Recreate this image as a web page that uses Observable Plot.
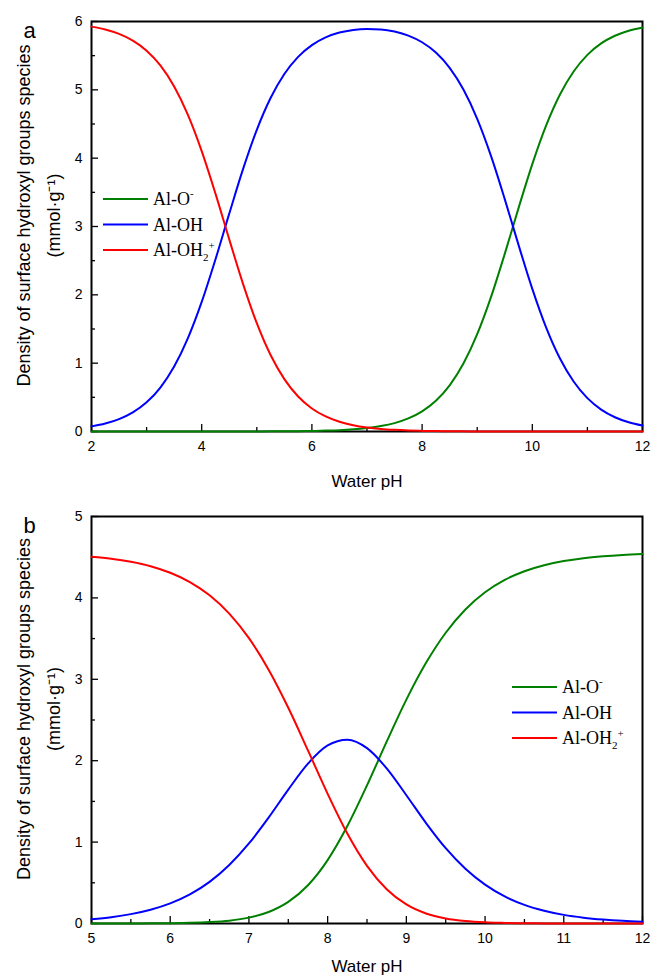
<!DOCTYPE html>
<html><head><meta charset="utf-8">
<script src="https://cdn.jsdelivr.net/npm/d3@7"></script>
<script src="https://cdn.jsdelivr.net/npm/@observablehq/plot@0.6"></script>
<style>
body{margin:0;background:#fff;}
#chart{width:653px;}
#chart svg{display:block;}
</style></head><body><div id="chart"></div>
<script>
// ---------- data ----------
const species = ["Al-O-", "Al-OH", "Al-OH2+"];
const speciesColors = ["#008000", "#0000ff", "#ff0000"];

// panel a
const phA = [2,2.25,2.5,2.75,3,3.25,3.5,3.75,4,4.25,4.5,4.75,5,5.25,5.5,5.75,6,6.25,6.5,6.75,7,7.25,7.5,7.75,8,8.25,8.5,8.75,9,9.25,9.5,9.75,10,10.25,10.5,10.75,11,11.25,11.5,11.75,12];
const alOA = [0,0,0,0,0,0,0,0,0,0,0,0.001,0.001,0.002,0.003,0.005,0.008,0.013,0.020,0.032,0.051,0.079,0.123,0.191,0.294,0.449,0.675,0.994,1.424,1.966,2.599,3.269,3.913,4.476,4.929,5.269,5.512,5.679,5.791,5.865,5.913];
const alOHA = [0.075,0.117,0.182,0.280,0.427,0.643,0.950,1.366,1.896,2.519,3.188,3.839,4.414,4.880,5.232,5.483,5.655,5.768,5.838,5.877,5.891,5.884,5.853,5.794,5.696,5.545,5.322,5.004,4.575,4.033,3.401,2.731,2.087,1.524,1.071,0.731,0.488,0.321,0.209,0.135,0.087];
const alOH2A = [5.925,5.883,5.818,5.720,5.573,5.357,5.050,4.634,4.104,3.481,2.812,2.161,1.585,1.119,0.766,0.512,0.337,0.220,0.142,0.091,0.058,0.037,0.024,0.015,0.009,0.006,0.004,0.002,0.001,0,0,0,0,0,0,0,0,0,0,0,0];
const xTicksA = [2,4,6,8,10,12];
const xMinorA = [3,5,7,9,11];
const yTicksA = [0,1,2,3,4,5,6];
const yMinorA = [0.5,1.5,2.5,3.5,4.5,5.5];

// panel b
const phB = [5,5.25,5.5,5.75,6,6.25,6.5,6.75,7,7.25,7.5,7.75,8,8.25,8.5,8.75,9,9.25,9.5,9.75,10,10.25,10.5,10.75,11,11.25,11.5,11.75,12];
const alOB = [0,0,0.001,0.002,0.004,0.008,0.017,0.035,0.072,0.141,0.265,0.470,0.779,1.197,1.697,2.234,2.750,3.202,3.572,3.858,4.069,4.221,4.328,4.402,4.453,4.488,4.511,4.527,4.538];
const alOHB = [0.053,0.078,0.115,0.169,0.247,0.357,0.511,0.718,0.983,1.301,1.645,1.964,2.188,2.258,2.154,1.905,1.576,1.234,0.925,0.672,0.477,0.332,0.229,0.157,0.106,0.072,0.049,0.033,0.022];
const alOH2B = [4.507,4.482,4.444,4.389,4.309,4.195,4.032,3.807,3.505,3.118,2.650,2.126,1.593,1.105,0.708,0.421,0.234,0.123,0.062,0.030,0.014,0.007,0.003,0.001,0,0,0,0,0];
const xTicksB = [5,6,7,8,9,10,11,12];
const xMinorB = [5.5,6.5,7.5,8.5,9.5,10.5,11.5];
const yTicksB = [0,1,2,3,4,5];
const yMinorB = [0.5,1.5,2.5,3.5,4.5];

const xTitle = "Water pH";
const yTitle = "Density of surface hydroxyl groups species\n(mmol·g⁻¹)";

// ---------- drawing ----------
const SANS = "'Liberation Sans', Arial, Helvetica, sans-serif";
const SERIF = "'Liberation Serif', 'Times New Roman', serif";

function rowsOf(ph, lists) {
  const out = [];
  lists.forEach((vals, k) => ph.forEach((p, i) => out.push({ph: p, v: vals[i], s: species[k]})));
  return out;
}

function panel(o) {
  const rows = rowsOf(o.ph, o.series);
  const fmt = d => String(d);
  const svg = Plot.plot({
    width: 653, height: o.height,
    marginTop: 21, marginRight: 11, marginLeft: 91, marginBottom: o.marginBottom,
    style: {fontFamily: SANS, color: "#000", background: "#fff", overflow: "visible"},
    x: {domain: o.xDomain},
    y: {domain: o.yDomain},
    color: {domain: species, range: speciesColors},
    marks: [
      Plot.axisX({ticks: o.xTicks, tickFormat: fmt, tickSize: 0, tickPadding: 10, fontSize: 14, label: null}),
      Plot.axisX({ticks: o.xTicks, tickSize: -7, text: null, strokeWidth: 1.3, label: null}),
      Plot.axisX({ticks: o.xMinor, tickSize: -4, text: null, strokeWidth: 1.3, label: null}),
      Plot.axisY({ticks: o.yTicks, tickFormat: fmt, tickSize: 0, tickPadding: 9, fontSize: 14, label: null}),
      Plot.axisY({ticks: o.yTicks, tickSize: -7, text: null, strokeWidth: 1.3, label: null}),
      Plot.axisY({ticks: o.yMinor, tickSize: -4, text: null, strokeWidth: 1.3, label: null}),
      Plot.frame({stroke: "#000", strokeWidth: 2}),
      Plot.line(rows, {x: "ph", y: "v", z: "s", stroke: "s", strokeWidth: 2, curve: "monotone-x"}),
      Plot.text([xTitle], {frameAnchor: "bottom", dy: o.xTitleDy, fontSize: 17}),
      Plot.text([yTitle], {frameAnchor: "left", textAnchor: "middle", dx: -56, dy: -11, rotate: -90, fontSize: 18, lineHeight: 1.65}),
      Plot.text([o.letter], {frameAnchor: "top-left", textAnchor: "middle", dx: -62, dy: 1, fontSize: 22})
    ]
  });
  // legend (inside plot area)
  const g = d3.select(svg).append("g").attr("font-family", SERIF).attr("font-size", 18)
    .attr("fill", "#000").attr("text-anchor", "start");
  const labels = [
    [{t: "Al-O"}, {t: "-", sup: true}],
    [{t: "Al-OH"}],
    [{t: "Al-OH"}, {t: "2", sub: true}, {t: "+", sup2: true}]
  ];
  species.forEach((s, i) => {
    const y = o.legend.y + i * 25.5;
    g.append("line").attr("x1", o.legend.x).attr("x2", o.legend.x + 45).attr("y1", y).attr("y2", y)
      .attr("stroke", speciesColors[i]).attr("stroke-width", 2);
    const t = g.append("text").attr("x", o.legend.x + 50).attr("y", y + 6);
    labels[i].forEach(p => {
      const ts = t.append("tspan").text(p.t);
      if (p.sup) ts.attr("font-size", 11).attr("dy", -8);
      if (p.sub) ts.attr("font-size", 11).attr("dy", 5);
      if (p.sup2) ts.attr("font-size", 11).attr("dy", -12);
    });
  });
  return svg;
}

const root = document.getElementById("chart");
root.appendChild(panel({
  ph: phA, series: [alOA, alOHA, alOH2A], xDomain: [2, 12], yDomain: [0, 6],
  xTicks: xTicksA, xMinor: xMinorA, yTicks: yTicksA, yMinor: yMinorA,
  height: 495, marginBottom: 64, xTitleDy: 55, letter: "a",
  legend: {x: 103, y: 199}
}));
root.appendChild(panel({
  ph: phB, series: [alOB, alOHB, alOH2B], xDomain: [5, 12], yDomain: [0, 5],
  xTicks: xTicksB, xMinor: xMinorB, yTicks: yTicksB, yMinor: yMinorB,
  height: 484, marginBottom: 56, xTitleDy: 48, letter: "b",
  legend: {x: 512, y: 192}
}));
</script></body></html>
